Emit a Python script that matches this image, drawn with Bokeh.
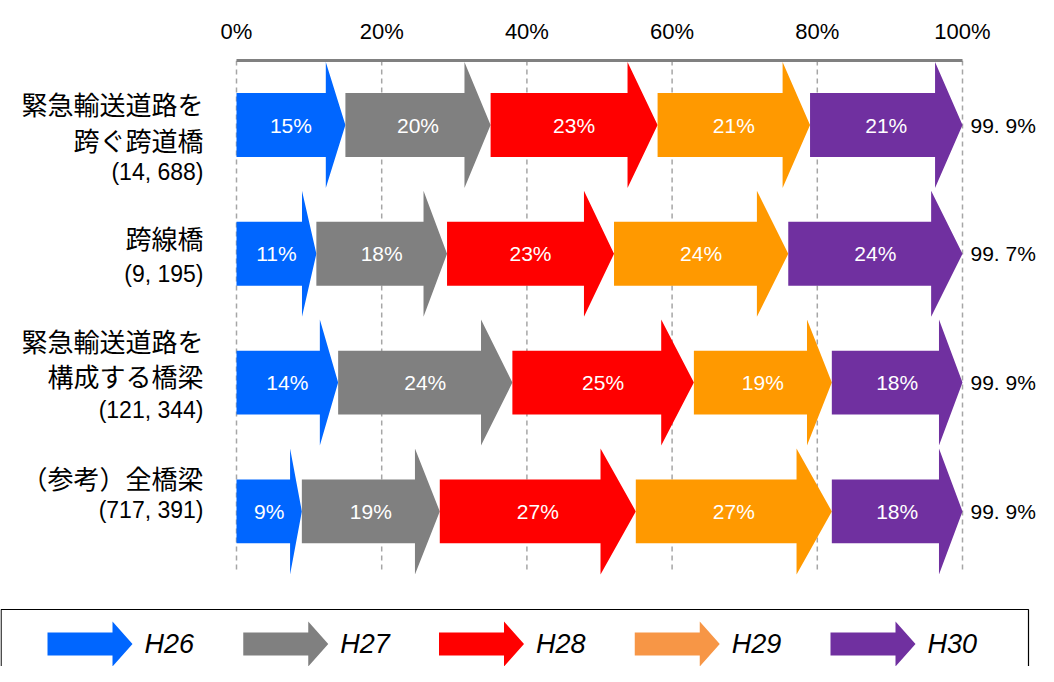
from bokeh.plotting import figure
from bokeh.models import Range1d, ColumnDataSource, FixedTicker
from bokeh.core.properties import value
from bokeh.embed import file_html
from bokeh.resources import INLINE

# ---------------- data ----------------
categories = [
    ["緊急輸送道路を", "跨ぐ跨道橋"],
    ["跨線橋"],
    ["緊急輸送道路を", "構成する橋梁"],
    ["（参考）全橋梁"],
]
bridge_counts = [14688, 9195, 121344, 717391]
series = ["H26", "H27", "H28", "H29", "H30"]
h26 = [15, 11, 14, 9]
h27 = [20, 18, 24, 19]
h28 = [23, 23, 25, 27]
h29 = [21, 24, 19, 27]
h30 = [21, 24, 18, 18]
totals = [99.9, 99.7, 99.9, 99.9]
tick_values = [0, 20, 40, 60, 80, 100]

# ---------------- styles / layout ----------------
bar_colors = ["#0066FF", "#808080", "#FF0000", "#FF9900", "#7030A0"]
legend_colors = ["#0066FF", "#808080", "#FF0000", "#F79646", "#7030A0"]
SANS = "Liberation Sans"
JP = "Noto Sans CJK JP"
# label line offsets (px from row centre)
line_offsets = [[-22, 14, 47], [-16, 20], [-42, -7, 27], [-34, -1]]

W, H = 1038, 666
X0, PX = 236.0, 7.26          # pixel of 0 %, pixels per %
Y0, PY, TOP = 124.5, 128.8, 60  # pixel of first row, pixels per row, frame top


def dx(px):  # pixel -> data x
    return (px - X0) / PX


def dy(px):  # pixel -> data y
    return (px - Y0) / PY


BODY_HALF = 0.248
HEAD_HALF = 0.489
HEAD_FRAC = 0.18

p = figure(
    width=W, height=H, output_backend="svg", toolbar_location=None,
    x_range=Range1d(dx(0), dx(W)), y_range=Range1d(dy(H), dy(TOP)),
    x_axis_location="above", y_axis_location=None,
    min_border_left=0, min_border_right=0, min_border_bottom=0, min_border_top=TOP,
    outline_line_color=None,
)
p.grid.visible = False

ax = p.xaxis[0]
ax.ticker = FixedTicker(ticks=tick_values)
ax.bounds = (0, 100)
ax.major_label_overrides = {t: f"{t}%" for t in tick_values}
ax.axis_line_color = "#808080"
ax.axis_line_width = 3
ax.major_tick_line_color = None
ax.minor_tick_line_color = None
ax.major_tick_out = 0
ax.major_tick_in = 0
ax.major_label_standoff = 17
ax.major_label_text_font = SANS
ax.major_label_text_font_size = "22px"
ax.major_label_text_color = "#000000"

# dashed vertical grid lines at tick positions
grid_top, grid_bottom = dy(TOP), dy(572)
p.segment(x0=tick_values, y0=[grid_top] * len(tick_values), x1=tick_values,
          y1=[grid_bottom] * len(tick_values), line_color="#A6A6A6",
          line_width=1.5, line_dash="5 4")

# arrows
values = [h26, h27, h28, h29, h30]
xs, ys, cols, lx, ly, lt = [], [], [], [], [], []
for i in range(len(categories)):
    start = 0.0
    for j, vals in enumerate(values):
        v = vals[i]
        end = start + v
        h = HEAD_FRAC * v
        xs.append([start, end - h, end - h, end, end - h, end - h, start])
        ys.append([i - BODY_HALF, i - BODY_HALF, i - HEAD_HALF, i,
                   i + HEAD_HALF, i + BODY_HALF, i + BODY_HALF])
        cols.append(bar_colors[j])
        lx.append((start + end) / 2)
        ly.append(i)
        lt.append(f"{v}%")
        start = end

p.patches(xs="xs", ys="ys", fill_color="c", line_color=None,
          source=ColumnDataSource(dict(xs=xs, ys=ys, c=cols)))
p.text(x=lx, y=ly, text=lt, text_color="white", text_font=value(SANS),
       text_font_size="21px", text_align="center", text_baseline="middle")

# totals on the right
p.text(x=[100] * len(totals), y=list(range(len(totals))),
       text=[f"{t:.1f}%".replace(".", ". ") for t in totals],
       x_offset=8, text_color="black", text_font=value(SANS),
       text_font_size="21px", text_align="left", text_baseline="middle")

# category labels on the left
for i, lines in enumerate(categories):
    all_lines = lines + [f"({bridge_counts[i]:,})".replace(",", ", ")]
    for k, line in enumerate(all_lines):
        is_jp = k < len(lines)
        p.text(x=[0], y=[i], text=[line], x_offset=-33, y_offset=line_offsets[i][k],
               text_color="black", text_font=value(JP if is_jp else SANS),
               text_font_size="26px" if is_jp else "23px",
               text_align="right", text_baseline="middle")

# legend (shifted up to fit inside the canvas)
leg_y = dy(643.5)
lb = 11.5 / PY
lh = 22.5 / PY
lxs, lys, ltx = [], [], []
for k in range(len(series)):
    x0 = dx(47 + k * 195.75)
    xb = dx(112 + k * 195.75)
    xt = dx(132 + k * 195.75)
    lxs.append([x0, xb, xb, xt, xb, xb, x0])
    lys.append([leg_y - lb, leg_y - lb, leg_y - lh, leg_y, leg_y + lh, leg_y + lb, leg_y + lb])
    ltx.append(dx(144 + k * 195.75))
p.patches(xs="xs", ys="ys", fill_color="c", line_color=None,
          source=ColumnDataSource(dict(xs=lxs, ys=lys, c=legend_colors)))
p.text(x=ltx, y=[leg_y] * len(series), text=series, text_color="black",
       text_font=value(SANS), text_font_style="italic",
       text_font_size="27px", text_align="left", text_baseline="middle")
p.quad(left=[dx(0.6)], right=[dx(1028)], top=[dy(609)], bottom=[dy(H + 20)],
       fill_color=None, line_color="black", line_width=1.2)

open("out.html", "w").write(file_html(p, INLINE))
